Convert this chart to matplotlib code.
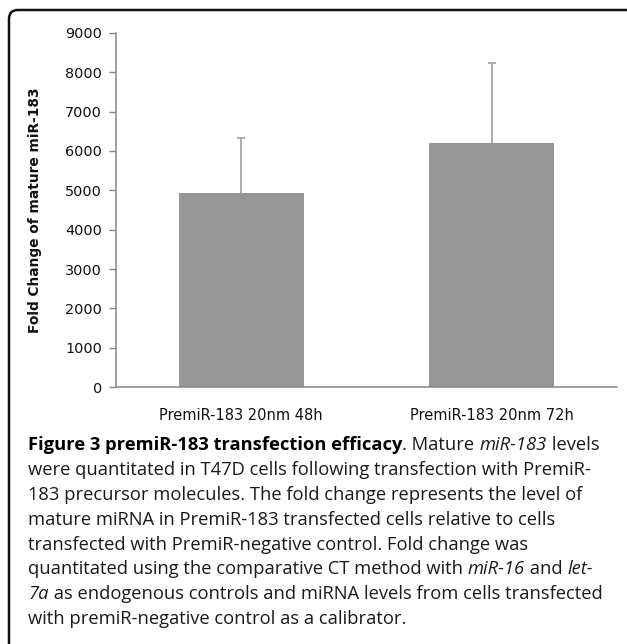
import numpy as np
import matplotlib
matplotlib.use("Agg")
import matplotlib.pyplot as plt
from matplotlib.patches import FancyBboxPatch

# --- data ---
categories = ["PremiR-183 20nm 48h", "PremiR-183 20nm 72h"]
fold_change = [4930, 6200]
fold_error = [1400, 2030]
y_ticks = [0, 1000, 2000, 3000, 4000, 5000, 6000, 7000, 8000, 9000]

caption_lines = [
    [("Figure 3 premiR-183 transfection efficacy", "bold"), (". Mature ", "normal"),
     ("miR-183", "italic"), (" levels", "normal")],
    [("were quantitated in T47D cells following transfection with PremiR-", "normal")],
    [("183 precursor molecules. The fold change represents the level of", "normal")],
    [("mature miRNA in PremiR-183 transfected cells relative to cells", "normal")],
    [("transfected with PremiR-negative control. Fold change was", "normal")],
    [("quantitated using the comparative CT method with ", "normal"), ("miR-16", "italic"),
     (" and ", "normal"), ("let-", "italic")],
    [("7a", "italic"), (" as endogenous controls and miRNA levels from cells transfected", "normal")],
    [("with premiR-negative control as a calibrator.", "normal")],
]

W, H = 627, 644
fig = plt.figure(figsize=(W / 100, H / 100), dpi=100)

# rounded frame, only the top-left corner falls inside the image
frame = FancyBboxPatch((9 / W, -0.2), 1.0 - 9 / W + 0.022, 1.2 - 10 / H,
                       boxstyle="round,pad=0,rounding_size=0.014",
                       transform=fig.transFigure, fill=False, lw=1.8,
                       edgecolor="#111111", clip_on=False)
fig.patches.append(frame)

# --- chart ---
ax_l, ax_r, ax_t, ax_b = 116, 617, 33, 387
ax = fig.add_axes([ax_l / W, 1 - ax_b / H, (ax_r - ax_l) / W, (ax_b - ax_t) / H])
x = np.arange(len(categories))
ax.bar(x, fold_change, width=0.5, color="#969696", zorder=2)
_, caps, _ = ax.errorbar(x, fold_change, yerr=[np.zeros(len(x)), fold_error], fmt="none",
                         ecolor="#a0a0a0", elinewidth=1.2, capsize=3, capthick=1.2, zorder=1)
caps[0].set_visible(False)  # only the upper whisker

ax.set_xlim(-0.5, len(categories) - 0.5)
ax.set_ylim(0, 9000)
ax.set_yticks(y_ticks)
ax.set_yticklabels([str(v) for v in y_ticks], fontsize=10.4, family="DejaVu Sans",
                   color="#111111")
ax.set_xticks(x)
ax.set_xticklabels(categories, fontsize=10.5, family="DejaVu Sans", color="#111111")
ax.tick_params(axis="y", length=5, width=1, color="#868686", pad=5)
ax.tick_params(axis="x", length=0, pad=15)
for s in ["top", "right"]:
    ax.spines[s].set_visible(False)
for s in ["left", "bottom"]:
    ax.spines[s].set_color("#868686")
    ax.spines[s].set_linewidth(1.1)

fig.text(35 / W, 1 - 210 / H, "Fold Change of mature miR-183", rotation=90,
         ha="center", va="center", fontsize=9.9, fontweight="bold",
         family="DejaVu Sans", color="#111111")

# --- caption with mixed styles ---
renderer = fig.canvas.get_renderer()
baseline = 450
for runs in caption_lines:
    xpos = 28
    for txt, style in runs:
        kw = dict(fontsize=13.2, family="Open Sans", va="baseline", ha="left",
                  color="#1a1a1a")
        if style == "bold":
            kw["fontweight"] = "bold"
            kw["color"] = "black"
        elif style == "italic":
            kw["fontstyle"] = "italic"
        t = fig.text(xpos / W, 1 - baseline / H, txt, **kw)
        bb = t.get_window_extent(renderer=renderer)
        xpos += bb.width
    baseline += 24.9

fig.savefig("out.png", dpi=100)
